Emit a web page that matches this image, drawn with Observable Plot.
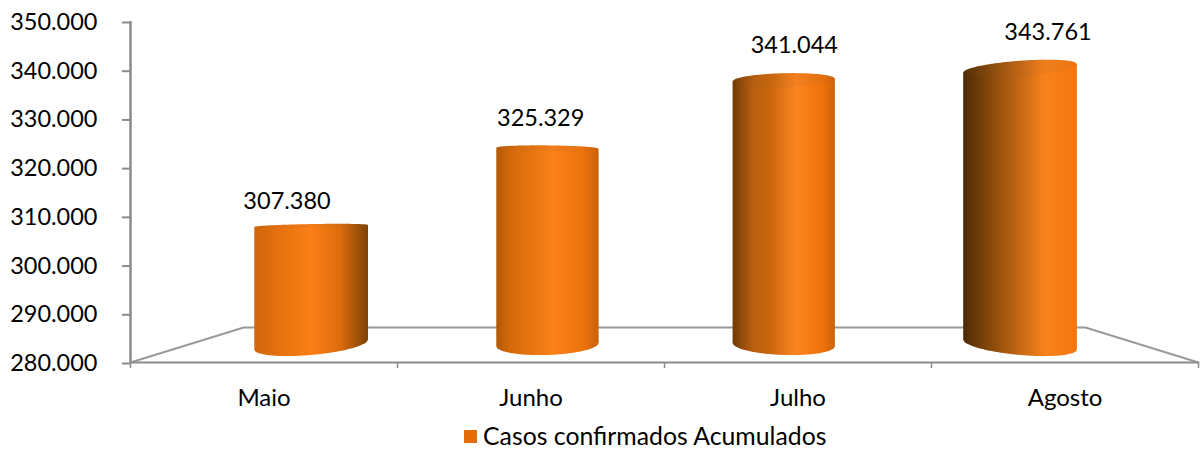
<!DOCTYPE html>
<html lang="pt">
<head>
<meta charset="utf-8">
<script src="https://cdn.jsdelivr.net/npm/d3@7"></script>
<script src="https://cdn.jsdelivr.net/npm/@observablehq/plot@0.6"></script>
<style>
  html, body { margin: 0; padding: 0; background: #fff; overflow: hidden; }
  svg { display: block; }
  #legend { height: 26px; width: 1200px; position: relative; font: 24.8px/30px Lato, sans-serif; color: #000; }
  #legend .item { position: absolute; left: 464px; top: -4px; display: flex; align-items: center; height: 30px; white-space: nowrap; }
  #legend .swatch { width: 13px; height: 13px; background: #e36c0a; margin-right: 6px; }
</style>
</head>
<body>
<div id="chart"></div>
<div id="legend"><div class="item"><span class="swatch"></span><span id="legendText"></span></div></div>
<script>
// Data
const categories = ["Maio", "Junho", "Julho", "Agosto"];
const casos = [307380, 325329, 341044, 343761];
const yTicks = [280000, 290000, 300000, 310000, 320000, 330000, 340000, 350000];
const seriesName = "Casos confirmados Acumulados";

// Gradient stops for each cylinder: [offset, colour]
const shading = [
  [[0, "#cf660c"], [0.25, "#e8730e"], [0.5, "#fb7f16"], [0.75, "#dd6c0c"], [1, "#7d4307"]],
  [[0, "#b05808"], [0.12, "#d2680a"], [0.55, "#fa8018"], [0.85, "#ec730c"], [1, "#c9600a"]],
  [[0, "#703a06"], [0.2, "#b85f0e"], [0.38, "#cc680e"], [0.62, "#fc8420"], [0.88, "#ee720a"], [1, "#cc620a"]],
  [[0, "#4e2904"], [0.25, "#8a4a0a"], [0.72, "#f8821c"], [1, "#f4760e"]]
];

// Scale and perspective set-up
const width = 1200, height = 425, marginLeft = 130, marginRight = 2, marginTop = 21, marginBottom = 63;
const baseline = yTicks[0];
const pxPerValue = (height - marginTop - marginBottom) / (yTicks[yTicks.length - 1] - baseline);
const unitsPerPx = 1 / pxPerValue;
const pxToY = px => baseline + (height - marginBottom - px) * unitsPerPx;
const yToPx = v => height - marginBottom - (v - baseline) * pxPerValue;
const mid = categories.length / 2;
const depthBar = 0.885, depthBack = 0.788, depthLabel = 0.95;
const floorBar = 17.5 * unitsPerPx, floorBack = 35 * unitsPerPx, labelLift = 34.5 * unitsPerPx;
const projectX = (x, d) => mid + (x - mid) * d;
const eyePx = 195;

// Outline of one cylinder, from its category index and value
function cylinderParts(i) {
  const off = i + 0.5 - mid;
  const cx = projectX(i + 0.5, depthBar) + 0.006;
  const half = 0.181 + 0.0213 * Math.abs(off);
  const botPx = yToPx(baseline + floorBar);
  const topPx = yToPx(baseline + floorBar + (casos[i] - baseline) * 0.889);
  const edge = (px, t) => ({
    bulge: 0.07 * Math.abs(px - eyePx) * Math.sqrt(1 - t * t),
    tilt: 3.3 * off * (px - eyePx) / (botPx - eyePx) * t
  });
  return d3.range(-1, 1.0001, 0.02).map(t => {
    const b = edge(botPx, t), a = edge(topPx, t);
    return {
      x: cx + half * t,
      y1: pxToY(botPx + b.bulge + b.tilt),
      y2: pxToY(topPx - a.bulge * 0.86 + a.tilt),
      rim: pxToY(topPx + a.bulge * 0.86 + a.tilt)
    };
  });
}

const floorPath = [
  { x: 0, y: baseline },
  { x: projectX(0, depthBack), y: baseline + floorBack },
  { x: projectX(categories.length, depthBack), y: baseline + floorBack },
  { x: categories.length, y: baseline }
];

const gridGrey = "#9a9a9a", axisGrey = "#8c8c8c";
const fmt = d => d3.format(",")(d).replace(/,/g, ".");

const defs = () => {
  const g = d3.create("svg:defs");
  shading.forEach((stops, i) => {
    const lg = g.append("linearGradient").attr("id", "cyl" + i).attr("x1", 0).attr("x2", 1).attr("y1", 0).attr("y2", 0);
    stops.forEach(([o, c]) => lg.append("stop").attr("offset", o).attr("stop-color", c));
  });
  return g.node();
};

const plot = Plot.plot({
  width, height, marginLeft, marginRight, marginTop, marginBottom,
  style: { fontFamily: "Lato, sans-serif", fontSize: "23.5px", color: "#000", background: "#fff", overflow: "visible" },
  x: { domain: [0, categories.length], axis: null },
  y: { domain: [baseline, yTicks[yTicks.length - 1]], axis: null },
  marks: [
    defs,
    Plot.line(floorPath, { x: "x", y: "y", stroke: gridGrey, strokeWidth: 2 }),
    Plot.ruleY([baseline], { stroke: axisGrey, strokeWidth: 2 }),
    Plot.ruleX([0], { stroke: axisGrey, strokeWidth: 2.5 }),
    Plot.axisY({
      ticks: yTicks, tickFormat: fmt, tickSize: 8, tickPadding: 25, stroke: axisGrey,
      strokeWidth: 2, label: null, fontSize: 23.5, fill: "#000", dy: 1
    }),
    Plot.axisX({
      ticks: d3.range(categories.length + 1), tickFormat: () => "", tickSize: 6,
      stroke: axisGrey, strokeWidth: 1.5, label: null
    }),
    Plot.axisX({
      ticks: categories.map((_, i) => i + 0.5), tickFormat: d => categories[d - 0.5],
      tickSize: 0, tickPadding: 26, label: null, fontSize: 24, fill: "#000"
    }),
    ...categories.flatMap((_, i) => {
      const parts = cylinderParts(i);
      return [
        Plot.areaY(parts, { x: "x", y1: "y1", y2: "y2", fill: `url(#cyl${i})`, curve: "linear" }),
        Plot.areaY(parts, { x: "x", y1: "rim", y2: "y2", fill: "#8a5a30", fillOpacity: 0.08, curve: "linear" })
      ];
    }),
    Plot.text(casos, {
      x: (_, i) => projectX(i + 0.5, depthLabel),
      y: d => baseline + labelLift + (d - baseline) * depthLabel,
      text: fmt, fontSize: 23.5, fill: "#000", dx: 3
    })
  ]
});
document.getElementById("chart").append(plot);
document.getElementById("legendText").textContent = seriesName;
</script>
</body>
</html>
